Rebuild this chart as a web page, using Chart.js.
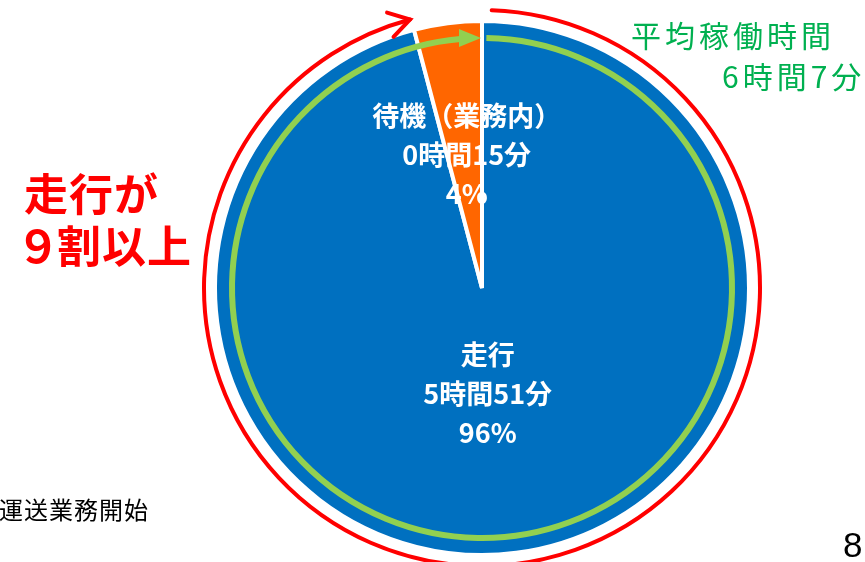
<!DOCTYPE html>
<html lang="ja">
<head>
<meta charset="utf-8">
<script src="https://cdn.jsdelivr.net/npm/chart.js@4.4.0/dist/chart.umd.min.js"></script>
<style>
  body { margin: 0; background: #fff; }
  #wrap { position: relative; width: 865px; height: 562px; overflow: hidden; font-family: "Noto Sans CJK JP", sans-serif; }
  #pie { position: absolute; left: 0; top: 0; }
  .note { position: absolute; white-space: nowrap; }
  .avg { color: #00B050; font-size: 30px; line-height: 30px; letter-spacing: 4px; }
  .big { color: #FF0000; font-size: 44px; line-height: 44px; font-weight: bold; letter-spacing: 1px; }
</style>
</head>
<body>
<div id="wrap">
  <canvas id="pie" width="865" height="562"></canvas>
  <div class="note avg" style="left:631px; top:19px;">平均稼働時間</div>
  <div class="note avg" style="left:722px; top:60px;">6時間7分</div>
  <div class="note big" style="left:24px; top:170px;">走行が</div>
  <div class="note big" style="left:16px; top:222px;"><span style="letter-spacing:-3px">９</span>割以上</div>
  <div class="note" style="left:-1px; top:497px; font-size:24px; line-height:24px; letter-spacing:1px; color:#000;">運送業務開始</div>
  <div class="note" style="left:843px; top:527px; font-size:35px; line-height:35px; font-family:'Liberation Sans', Arial, sans-serif; color:#000;">8</div>
</div>
<script>
const categories = ['走行', '待機（業務内）'];
const minutes = [351, 15];
const sliceColors = ['#0070C0', '#FF6600'];

function fmtTime(m) {
    return Math.floor(m / 60) + '時間' + (m % 60) + '分';
}

// arrowhead helpers
function chevron(ctx, px, py, dir, len, spread) {
    ctx.beginPath();
    ctx.moveTo(px - len * Math.cos(dir - spread), py - len * Math.sin(dir - spread));
    ctx.lineTo(px, py);
    ctx.lineTo(px - len * Math.cos(dir + spread), py - len * Math.sin(dir + spread));
    ctx.stroke();
}

function triangle(ctx, px, py, dir, len, half) {
    const bx = px - len * Math.cos(dir), by = py - len * Math.sin(dir);
    ctx.beginPath();
    ctx.moveTo(px, py);
    ctx.lineTo(bx + half * Math.sin(dir), by - half * Math.cos(dir));
    ctx.lineTo(bx - half * Math.sin(dir), by + half * Math.cos(dir));
    ctx.closePath();
    ctx.fill();
}

const overlay = {
    id: 'overlay',
    afterDatasetsDraw(chart, args, opts) {
        const ctx = chart.ctx;
        const arcs = chart.getDatasetMeta(0).data;
        const total = minutes.reduce((a, b) => a + b, 0);
        const cx = arcs[0].x, cy = arcs[0].y, R = arcs[0].outerRadius;
        const top = -Math.PI / 2;
        const deg = Math.PI / 180;

        // slice labels
        ctx.save();
        ctx.fillStyle = '#fff';
        ctx.font = 'bold 27px "Noto Sans CJK JP", sans-serif';
        ctx.textAlign = 'center';
        ctx.textBaseline = 'middle';
        arcs.forEach((arc, i) => {
            const mid = (arc.startAngle + arc.endAngle) / 2;
            const r = R * opts.labelRadius[i];
            const lx = cx + Math.cos(mid) * r + opts.labelShift[i];
            const ly = cy + Math.sin(mid) * r;
            const lines = [categories[i], fmtTime(minutes[i]), Math.round(minutes[i] / total * 100) + '%'];
            lines.forEach((t, k) => ctx.fillText(t, lx, ly + (k - 1) * 39));
        });
        ctx.restore();

        // green ring with arrow at top
        ctx.save();
        const gr = R - 17;
        ctx.strokeStyle = '#92D050';
        ctx.fillStyle = '#92D050';
        ctx.lineWidth = 6;
        ctx.beginPath();
        ctx.arc(cx, cy, gr, top + 1 * deg, top + 355 * deg);
        ctx.stroke();
        triangle(ctx, cx - 1, cy - gr, 0, 22, 9);
        ctx.restore();

        // red ring with open arrow
        ctx.save();
        const rr = R + 11;
        const endA = top + 345 * deg;
        ctx.strokeStyle = '#FF0000';
        ctx.lineWidth = 4;
        ctx.lineCap = 'round';
        ctx.beginPath();
        ctx.arc(cx, cy, rr, top + 2 * deg, endA);
        ctx.stroke();
        const tx = cx + rr * Math.cos(endA), ty = cy + rr * Math.sin(endA);
        chevron(ctx, tx, ty, endA + Math.PI / 2, 24, 0.55);
        ctx.restore();
    }
};

new Chart(document.getElementById('pie'), {
    type: 'pie',
    data: {
        labels: categories,
        datasets: [{
            data: minutes,
            backgroundColor: sliceColors,
            borderColor: '#ffffff',
            borderWidth: 4
        }]
    },
    options: {
        responsive: false,
        animation: false,
        layout: { padding: { left: 213, top: 19, right: 114, bottom: 5 } },
        plugins: {
            legend: { display: false },
            tooltip: { enabled: false },
            overlay: { labelRadius: [0.40, 0.505], labelShift: [-8, 2] }
        }
    },
    plugins: [overlay]
});
</script>
</body>
</html>
